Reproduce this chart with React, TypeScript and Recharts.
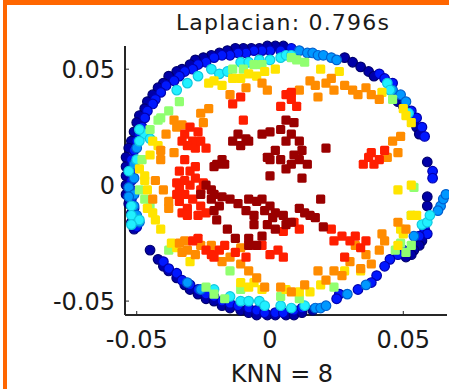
import { ScatterChart, Scatter, XAxis, YAxis } from "recharts";

const title = "Laplacian: 0.796s";
const xLabel = "KNN = 8";
const xTicks = [-0.05, 0, 0.05];
const yTicks = [-0.05, 0, 0.05];

// points, grouped by jet colour band (outer ring -> centre)
const darkBluePts = [
  [0.005, 0.06], [0.002, 0.06], [-0.001, 0.06], [-0.004, 0.059], [-0.007, 0.059], [-0.01, 0.059], [-0.013, 0.059],
  [-0.016, 0.058], [-0.019, 0.057], [-0.022, 0.056], [-0.025, 0.055], [-0.028, 0.054], [-0.03, 0.052], [-0.033, 0.05],
  [-0.035, 0.049], [-0.038, 0.047], [-0.04, 0.044], [-0.042, 0.042], [-0.044, 0.039], [-0.046, 0.036], [-0.047, 0.033],
  [-0.049, 0.03], [-0.05, 0.027], [-0.051, 0.023], [-0.052, 0.019], [-0.053, 0.016], [-0.054, 0.012], [-0.054, 0.008],
  [-0.054, 0.004], [-0.054, 0.0], [-0.054, -0.004], [-0.053, -0.008], [-0.052, -0.012], [-0.052, -0.016], [-0.051, -0.019],
  [-0.045, -0.028], [-0.042, -0.032], [-0.04, -0.035], [-0.038, -0.037], [-0.035, -0.04], [-0.032, -0.043], [-0.03, -0.045],
  [-0.027, -0.047], [-0.024, -0.049], [-0.021, -0.05], [-0.018, -0.052], [-0.015, -0.053], [-0.011, -0.054], [-0.008, -0.055],
  [-0.005, -0.056], [-0.001, -0.056], [0.002, -0.056], [0.006, -0.056], [0.009, -0.056], [0.012, -0.055], [0.016, -0.054],
  [0.028, 0.055], [0.031, 0.053], [0.034, 0.051], [0.037, 0.049], [0.039, 0.047], [0.048, 0.036], [0.05, 0.034],
  [0.053, 0.03], [0.055, 0.025], [0.056, 0.022], [0.059, 0.01], [0.059, -0.005], [0.059, -0.009], [0.057, -0.024],
  [0.056, -0.026], [0.054, -0.028], [0.053, -0.03], [0.051, -0.031],
];

const bluePts = [
  [0.008, 0.059], [0.004, 0.058], [0.0, 0.058], [-0.003, 0.058], [-0.006, 0.058], [-0.009, 0.057], [-0.012, 0.057],
  [-0.015, 0.056], [-0.018, 0.056], [-0.021, 0.055], [-0.024, 0.053], [-0.027, 0.052], [-0.029, 0.05], [-0.032, 0.049],
  [-0.034, 0.047], [-0.036, 0.045], [-0.039, 0.043], [-0.041, 0.04], [-0.043, 0.037], [-0.044, 0.035], [-0.046, 0.032],
  [-0.047, 0.029], [-0.048, 0.025], [-0.049, 0.022], [-0.05, 0.019], [-0.051, 0.015], [-0.052, 0.011], [-0.052, 0.006],
  [-0.052, 0.002], [-0.052, -0.002], [-0.052, -0.006], [-0.051, -0.01], [-0.05, -0.014], [-0.05, -0.018],
  [-0.04, -0.033], [-0.038, -0.036], [-0.035, -0.038], [-0.033, -0.041], [-0.03, -0.043], [-0.027, -0.045], [-0.024, -0.047],
  [-0.021, -0.048], [-0.018, -0.05], [-0.015, -0.051], [-0.012, -0.052], [-0.008, -0.053], [-0.005, -0.054], [-0.002, -0.055],
  [0.002, -0.055], [0.005, -0.055], [0.009, -0.054], [0.012, -0.053],
  [0.041, 0.048], [0.043, 0.046], [0.046, 0.044], [0.053, 0.032], [0.055, 0.029], [0.057, 0.025], [0.058, 0.021],
  [0.061, 0.006], [0.061, 0.003], [0.058, -0.019], [0.059, -0.021], [0.056, -0.022], [0.05, -0.028], [0.048, -0.03],
  [0.045, -0.032], [0.043, -0.035], [0.04, -0.039], [0.038, -0.042], [0.033, -0.045], [0.026, -0.047], [0.025, -0.049],
];

const azurePts = [
  [0.011, 0.058], [0.014, 0.057], [0.016, 0.057], [0.018, 0.056], [0.02, 0.056], [0.023, 0.055], [0.025, 0.054],
  [0.046, 0.041], [0.049, 0.039], [0.051, 0.036], [-0.05, 0.016], [-0.051, 0.009], [-0.051, 0.003], [-0.053, -0.001],
  [-0.051, -0.004], [-0.053, -0.005], [-0.051, -0.009], [-0.05, -0.013], [-0.049, -0.016], [0.064, -0.009], [0.065, -0.006],
  [0.063, -0.011], [0.066, -0.004], [-0.031, -0.042], [-0.026, -0.045], [0.017, -0.053], [0.019, -0.053], [0.021, -0.052],
  [0.029, -0.047], [0.036, -0.043], [0.054, -0.022],
];

const cyanPts = [
  [-0.022, 0.05], [-0.019, 0.048], [-0.016, 0.049], [-0.011, 0.053], [-0.008, 0.053], [-0.004, 0.054], [0.0, 0.054],
  [0.004, 0.055], [-0.027, 0.047], [-0.031, 0.044], [-0.035, 0.041], [-0.047, 0.022], [-0.045, 0.02], [-0.049, 0.024],
  [0.044, 0.044], [0.045, 0.041], [0.052, 0.031], [0.057, -0.017], [0.059, -0.016], [0.06, -0.013], [0.004, -0.052],
  [0.008, -0.053], [0.013, -0.052], [-0.015, -0.048], [-0.011, -0.05], [-0.008, -0.05], [-0.004, -0.05], [-0.053, 0.006],
  [-0.052, -0.009], [-0.052, -0.013], [-0.049, -0.015], [-0.052, -0.017], [0.006, 0.056], [0.008, 0.056], [-0.049, 0.019],
  [-0.05, 0.011], [-0.002, -0.052], [-0.021, -0.045],
];

const greenPts = [
  [-0.01, 0.05], [-0.006, 0.052], [-0.003, 0.052], [0.008, 0.055], [0.01, 0.054], [0.013, 0.053], [-0.014, 0.05],
  [0.046, 0.037], [-0.045, 0.024], [-0.041, 0.029], [-0.048, 0.011], [-0.049, -0.002], [-0.047, -0.006], [-0.045, -0.009],
  [-0.038, -0.028], [-0.015, -0.037], [-0.021, -0.047], [-0.017, -0.049], [0.024, -0.044], [0.051, -0.029], [0.049, -0.025],
  [0.054, -0.001], [0.053, -0.013], [0.004, -0.048], [-0.038, 0.032], [-0.034, 0.036], [-0.042, 0.028], [-0.024, -0.044],
  [-0.011, -0.045], [0.011, -0.049], [0.053, -0.026], [0.047, -0.028],
];

const yellowPts = [
  [-0.023, 0.044], [-0.021, 0.045], [-0.014, 0.046], [-0.008, 0.048], [-0.005, 0.047], [-0.018, 0.043], [0.05, 0.033],
  [0.051, 0.03], [0.053, 0.027], [0.042, 0.04], [0.049, -0.019], [0.05, -0.021], [0.053, -0.013], [0.055, -0.013],
  [-0.049, 0.007], [-0.047, 0.004], [-0.047, 0.002], [-0.044, -0.012], [-0.043, -0.015], [-0.041, -0.019], [-0.044, 0.019],
  [-0.042, 0.017], [-0.006, -0.042], [-0.003, -0.045], [-0.037, -0.025], [-0.035, -0.027], [0.006, -0.045], [0.011, -0.046],
  [0.015, -0.046], [0.028, -0.037], [0.034, -0.037], [0.048, -0.002], [0.053, 0.0], [-0.008, -0.044], [-0.011, 0.046],
  [-0.002, 0.049], [0.002, 0.05], [0.019, 0.05], [0.026, 0.049], [-0.045, 0.013], [-0.046, -0.002], [-0.046, -0.01],
  [-0.03, -0.033], [-0.011, -0.042], [0.019, -0.043], [0.048, -0.026],
];

const orangePts = [
  [-0.025, 0.027], [-0.036, 0.028], [-0.033, 0.026], [-0.041, 0.015], [-0.043, 0.002], [-0.044, -0.006], [-0.038, -0.007],
  [-0.038, -0.01], [-0.036, 0.014], [-0.023, 0.033], [-0.009, 0.042], [-0.003, 0.044], [-0.001, 0.041], [-0.034, -0.025],
  [-0.031, -0.028], [-0.028, -0.03], [-0.015, -0.031], [-0.005, -0.04], [-0.002, -0.044], [0.015, 0.045], [0.017, 0.043],
  [0.023, 0.046], [0.024, 0.041], [0.018, 0.038], [0.031, 0.041], [0.036, 0.042], [0.038, 0.039], [0.041, 0.037],
  [0.046, 0.019], [0.049, 0.021], [0.048, 0.014], [0.044, 0.012], [0.042, -0.021], [0.048, -0.016], [0.051, -0.019],
  [0.032, -0.026], [0.036, -0.03], [0.038, -0.034], [0.034, -0.036], [0.024, -0.037], [0.027, -0.039], [0.018, -0.037],
  [0.004, -0.044], [0.008, -0.046], [-0.032, -0.024], [-0.026, -0.026], [-0.035, 0.025], [-0.011, -0.027],
  [-0.033, -0.029], [-0.022, -0.026], [-0.018, -0.033], [-0.011, -0.034], [-0.008, -0.037], [0.03, -0.033], [0.041, -0.028],
  [0.043, -0.024], [0.021, -0.041], [0.013, -0.043], [0.021, 0.044], [0.028, 0.043], [0.033, 0.039], [0.011, 0.041],
  [-0.039, 0.022], [-0.041, 0.011], [-0.04, -0.002], [-0.015, 0.039], [-0.026, 0.031],
];

const redPts = [
  [-0.032, 0.022], [-0.029, 0.019], [-0.027, 0.023], [-0.031, 0.017], [-0.028, 0.016], [-0.03, 0.006], [-0.028, 0.008],
  [-0.034, -0.001], [-0.032, -0.004], [-0.034, -0.007], [-0.031, -0.01], [-0.029, -0.006], [-0.03, 0.0], [-0.033, -0.012],
  [-0.011, 0.038], [-0.014, 0.035], [-0.01, 0.028], [-0.029, -0.024], [-0.024, -0.028], [-0.022, -0.03], [-0.019, -0.028],
  [-0.003, -0.026], [0.0, -0.03], [0.003, -0.028], [0.006, 0.039], [0.008, 0.037], [0.01, 0.034], [0.035, 0.009],
  [0.038, 0.014], [0.041, 0.011], [0.005, -0.02], [0.009, -0.016], [0.011, -0.019], [0.023, -0.019], [0.027, -0.022],
  [0.03, -0.024], [0.034, -0.027], [0.028, -0.031], [0.005, -0.031], [-0.021, -0.031], [-0.025, 0.001], [-0.026, -0.002],
  [-0.035, 0.001], [-0.032, 0.002], [-0.028, 0.003], [-0.026, -0.009], [-0.024, -0.012], [-0.035, -0.004], [-0.031, -0.013],
  [-0.027, -0.013], [-0.034, 0.006], [-0.032, 0.011], [-0.033, 0.019], [-0.026, 0.019], [-0.03, 0.025], [-0.024, 0.016],
  [-0.027, -0.023], [-0.017, -0.026], [-0.013, -0.029], [-0.009, -0.031], [0.032, -0.022], [0.036, -0.024], [0.024, -0.024],
  [0.037, 0.012], [0.039, 0.009], [0.043, 0.015], [0.004, 0.034], [0.008, 0.04],
];

const darkRedPts = [
  [-0.012, 0.022], [-0.009, 0.02], [-0.003, 0.022], [0.0, 0.023], [0.004, 0.024], [0.008, 0.022], [0.011, 0.019],
  [0.012, 0.015], [0.011, 0.011], [0.008, 0.009], [0.004, 0.011], [0.002, 0.015], [0.0, 0.004], [0.014, 0.009],
  [0.012, 0.003], [-0.02, 0.009], [-0.018, 0.011], [0.006, 0.028], [0.009, 0.027], [0.021, 0.016], [-0.024, 0.0],
  [-0.022, -0.002], [-0.026, -0.004], [-0.022, -0.006], [-0.021, -0.011], [-0.018, -0.005], [-0.012, -0.008], [-0.008, -0.006],
  [-0.005, -0.007], [-0.002, -0.011], [0.001, -0.014], [-0.006, -0.013], [0.002, -0.019], [-0.02, -0.015], [-0.016, -0.019],
  [-0.013, -0.023], [-0.008, -0.023], [-0.005, -0.026], [0.013, -0.012], [0.017, -0.014], [0.019, -0.006], [0.02, -0.018],
  [0.005, -0.013], [0.008, -0.016], [-0.014, 0.019], [-0.021, 0.008], [-0.001, 0.012],
  [-0.003, -0.006], [0.0, -0.009], [0.002, -0.012], [-0.001, -0.017], [-0.009, -0.011], [-0.006, -0.017], [-0.003, -0.022],
  [-0.008, -0.026], [0.006, 0.019], [0.009, 0.013], [0.006, 0.007], [0.0, 0.011], [-0.011, 0.017], [-0.008, 0.019],
  [-0.017, 0.009], [-0.021, -0.004], [-0.019, -0.009], [-0.015, -0.006], [0.015, -0.013], [0.011, -0.01], [0.006, -0.017],
];

const toPts = (arr: number[][]) => arr.map(([x, y]) => ({ x, y }));

const groups = [
  { name: "darkBlue", pts: darkBluePts, fill: "#0000a8", stroke: "#000070", round: true },
  { name: "blue", pts: bluePts, fill: "#0018ff", stroke: "#0000b0", round: true },
  { name: "azure", pts: azurePts, fill: "#0098ff", stroke: "#0060d0", round: true },
  { name: "cyan", pts: cyanPts, fill: "#20f0ff", stroke: "#10c8e0", round: true },
  { name: "green", pts: greenPts, fill: "#90ff70", stroke: "none", round: false },
  { name: "yellow", pts: yellowPts, fill: "#ffe400", stroke: "none", round: false },
  { name: "orange", pts: orangePts, fill: "#ff8c00", stroke: "none", round: false },
  { name: "red", pts: redPts, fill: "#ff1e00", stroke: "none", round: false },
  { name: "darkRed", pts: darkRedPts, fill: "#9a0000", stroke: "none", round: false },
];

// marker drawn at the position recharts computes (cx, cy)
const makeMarker = (fill: string, stroke: string, round: boolean) => (p: any) => {
  if (p.cx == null || p.cy == null) return <g />;
  if (round) {
    return <circle cx={p.cx} cy={p.cy} r={4.8} fill={fill} stroke={stroke} strokeWidth={1.2} />;
  }
  return <rect x={p.cx - 4.6} y={p.cy - 4.6} width={9.2} height={9.2} rx={1.5} fill={fill} />;
};

const tickStyle = { fontFamily: "DejaVu Sans", fontSize: 24, fill: "#1a1a1a" };
const axisColor = "#262626";

export default function App() {
  return (
    <div style={{ position: "absolute", left: 0, top: 0, width: 449, height: 389, background: "#fff", overflow: "hidden" }}>
      <ScatterChart width={449} height={389} margin={{ top: 46, right: 2, bottom: 0, left: 0 }}>
        <XAxis
          type="number"
          dataKey="x"
          domain={[-0.0544, 0.0664]}
          ticks={xTicks}
          interval={0}
          height={74}
          tickSize={-4}
          tickMargin={20}
          axisLine={{ stroke: axisColor, strokeWidth: 2 }}
          tickLine={{ stroke: axisColor }}
          tick={tickStyle}
        />
        <YAxis
          type="number"
          dataKey="y"
          domain={[-0.056, 0.06]}
          ticks={yTicks}
          interval={0}
          width={125}
          tickSize={-4}
          tickMargin={14}
          axisLine={{ stroke: axisColor, strokeWidth: 2 }}
          tickLine={{ stroke: axisColor }}
          tick={tickStyle}
        />
        {groups.map((g) => (
          <Scatter
            key={g.name}
            name={g.name}
            data={toPts(g.pts)}
            fill={g.fill}
            shape={makeMarker(g.fill, g.stroke, g.round)}
            isAnimationActive={false}
          />
        ))}
      </ScatterChart>
      <svg width={449} height={389} style={{ position: "absolute", left: 0, top: 0, pointerEvents: "none" }}>
        <rect x={3} y={0} width={4} height={389} fill="#ff6600" />
        <rect x={3} y={0} width={446} height={5} fill="#ff6600" />
        <text x={283} y={30} textAnchor="middle" fontFamily="DejaVu Sans" fontSize={22} letterSpacing={1.2} fill="#1a1a1a">
          {title}
        </text>
        <text x={282} y={382} textAnchor="middle" fontFamily="DejaVu Sans" fontSize={24} fill="#1a1a1a">
          {xLabel}
        </text>
      </svg>
    </div>
  );
}
